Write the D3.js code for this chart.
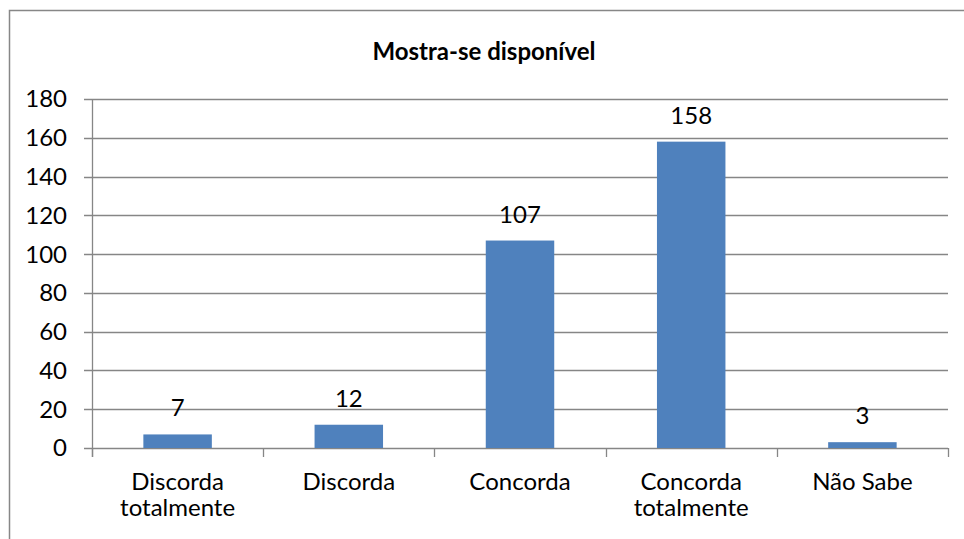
<!DOCTYPE html>
<html><head><meta charset="utf-8">
<script src="https://cdn.jsdelivr.net/npm/d3@7"></script>
<style>body{margin:0;background:#fff}svg{display:block}text{font-family:Lato,"Open Sans",sans-serif;fill:#000}</style>
</head><body><svg id="c" width="964" height="539"></svg>
<script>
const title = "Mostra-se disponível";
const categories = [["Discorda","totalmente"],["Discorda"],["Concorda"],["Concorda","totalmente"],["Não Sabe"]];
const values = [7, 12, 107, 158, 3];
const yTicks = [0,20,40,60,80,100,120,140,160,180];

const svg = d3.select("#c");
const m = {left:92, right:948, top:99, bottom:448};
const fs = 24;

svg.append("rect").attr("x",9.5).attr("y",10.5).attr("width",960).attr("height",540)
  .attr("fill","#fff").attr("stroke","#878787").attr("stroke-width",1.5);

const x = d3.scaleBand().domain(d3.range(categories.length)).range([m.left,m.right]).paddingInner(0.6).paddingOuter(0.3);
const xb = d3.scaleBand().domain(d3.range(categories.length)).range([m.left,m.right]);
const y = d3.scaleLinear().domain([0,180]).range([m.bottom,m.top]);

// gridlines
svg.append("g").selectAll("line").data(yTicks).join("line")
  .attr("x1",m.left-8).attr("x2",m.right)
  .attr("y1",d=>Math.round(y(d))+0.5).attr("y2",d=>Math.round(y(d))+0.5)
  .attr("stroke","#868686").attr("stroke-width",1.3);

// y axis line
svg.append("line").attr("x1",m.left+0.5).attr("x2",m.left+0.5).attr("y1",m.top).attr("y2",m.bottom+9)
  .attr("stroke","#868686").attr("stroke-width",1.3);
// x ticks at category boundaries
const bounds = d3.range(categories.length+1).map(i=> i<categories.length ? xb(i) : m.right);
svg.append("g").selectAll("line").data(bounds).join("line")
  .attr("x1",d=>Math.round(d)+0.5).attr("x2",d=>Math.round(d)+0.5)
  .attr("y1",m.bottom).attr("y2",m.bottom+9)
  .attr("stroke","#868686").attr("stroke-width",1.3);

// y labels
svg.append("g").selectAll("text").data(yTicks).join("text")
  .attr("x",67).attr("y",d=>y(d)).attr("dy","0.35em").attr("text-anchor","end")
  .attr("font-size",fs).text(d=>d);

// bars
svg.append("g").selectAll("rect").data(values).join("rect")
  .attr("x",(d,i)=>x(i)).attr("width",x.bandwidth())
  .attr("y",d=>y(d)).attr("height",d=>m.bottom-y(d))
  .attr("fill","#4F81BD");

// value labels
svg.append("g").selectAll("text").data(values).join("text")
  .attr("x",(d,i)=>x(i)+x.bandwidth()/2).attr("y",d=>y(d)-18)
  .attr("text-anchor","middle").attr("font-size",fs).text(d=>d);

// x labels
const xl = svg.append("g").selectAll("text").data(categories).join("text")
  .attr("x",(d,i)=>xb(i)+xb.bandwidth()/2).attr("y",490)
  .attr("text-anchor","middle").attr("font-size",fs);
xl.selectAll("tspan").data(d=>d).join("tspan")
  .attr("x",function(){return this.parentNode.getAttribute("x");})
  .attr("dy",(d,i)=>i===0?0:"1.1em").text(d=>d);

// title
svg.append("text").attr("x",484).attr("y",60).attr("text-anchor","middle")
  .attr("font-size",24).attr("font-weight","bold").text(title);
</script></body></html>
